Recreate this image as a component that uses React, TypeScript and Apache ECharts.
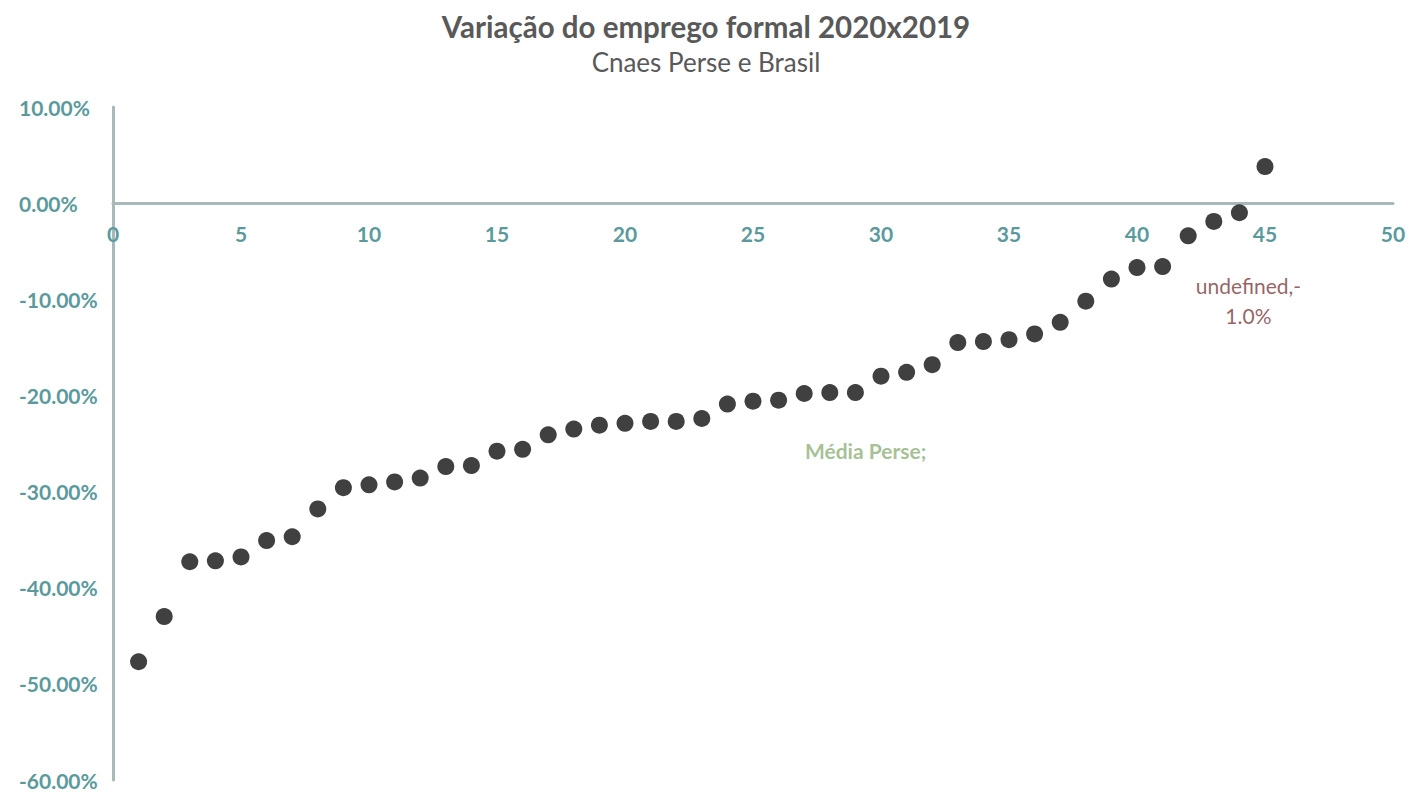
import React, { useEffect, useRef } from "react";
import * as echarts from "echarts";

const xValues = [1,2,3,4,5,6,7,8,9,10,11,12,13,14,15,16,17,18,19,20,21,22,23,24,25,26,27,28,29,30,31,32,33,34,35,36,37,38,39,40,41,42,43,44,45];
const yValues = [-47.7,-43.0,-37.3,-37.2,-36.8,-35.1,-34.7,-31.8,-29.6,-29.3,-29.0,-28.6,-27.4,-27.3,-25.8,-25.6,-24.1,-23.5,-23.1,-22.9,-22.7,-22.7,-22.4,-20.9,-20.6,-20.5,-19.8,-19.7,-19.7,-18.0,-17.6,-16.8,-14.5,-14.4,-14.2,-13.6,-12.4,-10.2,-7.9,-6.7,-6.6,-3.4,-1.9,-1.0,3.8];
const labelPoint = [44, -1.0];
const mediaPoint = [29.4, -25.7];
const yMin = -60;
const yMax = 10;

const FONT = "Lato, 'Open Sans', sans-serif";
const GRID_TOP = 107;
const GRID_BOTTOM = 12;
const HEIGHT = 792;

export default function App() {
  const ref = useRef<HTMLDivElement>(null);
  useEffect(() => {
    if (!ref.current) return;
    const chart = echarts.init(ref.current, undefined, { renderer: "svg" });
    const pts = xValues.map((x, i) => [x, yValues[i]]);
    const plotH = HEIGHT - GRID_TOP - GRID_BOTTOM;
    const zeroFromBottom = plotH * (0 - yMin) / (yMax - yMin);
    chart.setOption({
      animation: false,
      backgroundColor: "#ffffff",
      title: [
        {
          text: "Variação do emprego formal 2020x2019",
          left: "center",
          top: 6,
          textStyle: { fontFamily: FONT, fontSize: 29.5, fontWeight: "bold", color: "#595959" },
        },
        {
          text: "Cnaes Perse e Brasil",
          left: "center",
          top: 44,
          textStyle: { fontFamily: FONT, fontSize: 26, fontWeight: "normal", color: "#595959" },
        },
      ],
      grid: { left: 113, right: 19, top: GRID_TOP, bottom: GRID_BOTTOM, containLabel: false, outerBoundsMode: "none" },
      xAxis: {
        type: "value",
        min: 0,
        max: 50,
        interval: 5,
        position: "bottom",
        offset: -zeroFromBottom,
        axisLine: { onZero: false, lineStyle: { color: "#a9b8b8", width: 3 } },
        axisTick: { show: false },
        splitLine: { show: false },
        axisLabel: { margin: 20, color: "#5b9a9c", fontFamily: FONT, fontSize: 21, fontWeight: "bold" },
      },
      yAxis: {
        type: "value",
        min: yMin,
        max: yMax,
        interval: 10,
        axisLine: { show: true, onZero: false, lineStyle: { color: "#a9b8b8", width: 3 } },
        axisTick: { show: false },
        splitLine: { show: false },
        axisLabel: {
          align: "left",
          margin: 94,
          color: "#5b9a9c",
          fontFamily: FONT,
          fontSize: 21,
          fontWeight: "bold",
          formatter: (v: number) => v.toFixed(2) + "%",
        },
      },
      series: [
        {
          type: "scatter",
          data: pts,
          symbolSize: 17,
          itemStyle: { color: "#404040", opacity: 1 },
        },
        {
          type: "scatter",
          data: [labelPoint],
          symbolSize: 0,
          silent: true,
          label: {
            show: true,
            position: "bottom",
            distance: 58,
            offset: [9, 0],
            formatter: "undefined,-\n1.0%",
            align: "center",
            lineHeight: 30,
            color: "#7b3b3b",
            fontFamily: FONT,
            fontSize: 21,
          },
        },
        {
          type: "scatter",
          data: [mediaPoint],
          symbolSize: 0,
          silent: true,
          label: {
            show: true,
            position: "inside",
            formatter: "Média Perse;",
            color: "#8fb07a",
            fontFamily: FONT,
            fontSize: 21,
            fontWeight: "bold",
          },
        },
      ],
    });
    return () => chart.dispose();
  }, []);
  return <div ref={ref} style={{ width: 1412, height: 792, position: "absolute", left: 0, top: 0 }} />;
}
